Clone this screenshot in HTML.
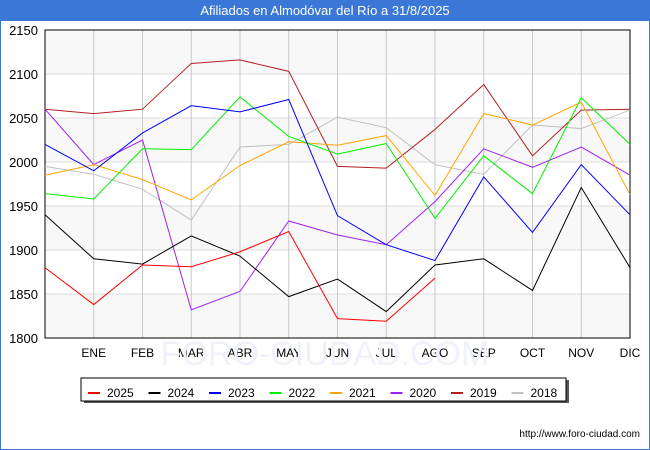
<!DOCTYPE html>
<html><head><meta charset="utf-8"><style>
body{margin:0;background:#fff;font-family:"Liberation Sans","DejaVu Sans",sans-serif}
#wrap{position:relative;width:650px;height:450px;overflow:hidden}
.title{position:absolute;left:0;top:0;width:650px;height:21px;background:#3a77d6;color:#fff;font-size:13px;line-height:21px;text-align:center}
.frame{position:absolute;left:0;top:0;width:648px;height:448px;border:1px solid #3a77d6;pointer-events:none}
</style></head><body>
<div id="wrap">
<div class="title">Afiliados en Almodóvar del Río a 31/8/2025</div>
<svg id="svg" width="650" height="450" style="position:absolute;left:0;top:0"></svg>
<div class="frame"></div>
</div>
<script>
const months=["","ENE","FEB","MAR","ABR","MAY","JUN","JUL","AGO","SEP","OCT","NOV","DIC"];
const yTicks=[1800,1850,1900,1950,2000,2050,2100,2150];
const seriesNames=["2025","2024","2023","2022","2021","2020","2019","2018"];
const seriesColors=["#ff0000","#000000","#0000ff","#00ee00","#ffa500","#a020f0","#b22222","#c0c0c0"];
const s2025=[1880,1838,1883,1881,1898,1921,1822,1819,1868];
const s2024=[1940,1890,1884,1916,1893,1847,1867,1830,1883,1890,1854,1971,1880];
const s2023=[2020,1990,2033,2064,2057,2071,1939,1906,1888,1983,1920,1997,1940];
const s2022=[1964,1958,2015,2014,2074,2029,2009,2021,1936,2007,1964,2073,2020];
const s2021=[1985,1997,1980,1957,1996,2023,2019,2030,1962,2055,2042,2068,1963];
const s2020=[2060,1997,2025,1832,1853,1933,1917,1906,1955,2015,1994,2017,1985];
const s2019=[2060,2055,2060,2112,2116,2103,1995,1993,2037,2088,2007,2059,2060];
const s2018=[1995,1986,1969,1934,2017,2020,2051,2039,1997,1986,2042,2038,2059];
const seriesData=[s2025,s2024,s2023,s2022,s2021,s2020,s2019,s2018];

const L=45,R=630,T=30,B=338,ymin=1800,ymax=2150;
const xs=i=>L+i*(R-L)/12;
const ys=v=>B-(v-ymin)*(B-T)/(ymax-ymin);
const svg=document.getElementById('svg');
const NS='http://www.w3.org/2000/svg';
function mk(tag,attrs,parent){const e=document.createElementNS(NS,tag);for(const k in attrs)e.setAttribute(k,attrs[k]);(parent||svg).appendChild(e);return e;}

for(let i=0;i<yTicks.length-1;i++){
  if(i%2===0){const b=mk('rect',{x:L,y:ys(yTicks[i+1]),width:R-L,height:ys(yTicks[i])-ys(yTicks[i+1]),fill:'#f8f8f8'});
  
  }
}
yTicks.forEach(v=>{
  const g=mk('line',{x1:L,x2:R,y1:ys(v),y2:ys(v),stroke:'#dddddd','stroke-width':1});
  
  
  const t=mk('text',{x:38,y:ys(v)+5,'text-anchor':'end','font-size':'13',fill:'#000'});
  t.textContent=v;
  
  
});
months.forEach((m,i)=>{
  if(i>0){const g=mk('line',{x1:xs(i),x2:xs(i),y1:T,y2:B,stroke:'#c8c8c8','stroke-width':1});
  
  }
  const t=mk('text',{x:xs(i),y:357,'text-anchor':'middle','font-size':'12',fill:'#000'});
  t.textContent=m;
  
  
});
const wm=mk('text',{x:325,y:365,'text-anchor':'middle','font-size':'34',fill:'#f0f2fb'});
wm.textContent='FORO-CIUDAD.COM';


const fr=mk('rect',{x:L,y:T,width:R-L,height:B-T,fill:'none',stroke:'#000','stroke-width':1});



for(let s=seriesData.length-1;s>=0;s--){
  const pts=seriesData[s].map((v,i)=>xs(i)+','+ys(v)).join(' ');
  const p=mk('polyline',{points:pts,fill:'none',stroke:seriesColors[s],'stroke-width':1});
  
  
}

const lg=mk('g',{});


mk('rect',{x:84,y:380,width:485,height:23,fill:'#555'},lg);
mk('rect',{x:81,y:378,width:485,height:23,fill:'#fff',stroke:'#000','stroke-width':1},lg);
seriesNames.forEach((n,i)=>{
  const x0=88+i*60.5;
  const g=mk('g',{},lg);
  
  
  mk('line',{x1:x0,x2:x0+12,y1:393,y2:393,stroke:seriesColors[i],'stroke-width':2},g);
  const t=mk('text',{x:x0+19,y:397,'font-size':'12',fill:'#000'},g);
  t.textContent=n;
});
const u=mk('text',{x:640,y:437,'text-anchor':'end','font-size':'10',fill:'#000'});
u.textContent='http://www.foro-ciudad.com';


</script>
</body></html>
